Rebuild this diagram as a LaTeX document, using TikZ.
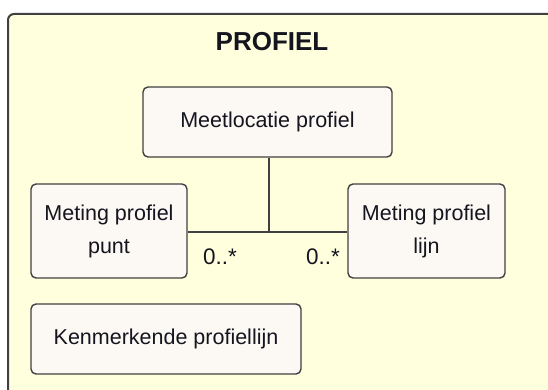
\documentclass[tikz,border=0pt]{standalone}
\usepackage{fontspec}
\setmainfont{Liberation Sans}
\definecolor{framefill}{HTML}{FFFFDD}
\definecolor{boxfill}{HTML}{FCF9F4}
\definecolor{edge}{HTML}{404040}
\definecolor{txt}{HTML}{151520}
\begin{document}
\begin{tikzpicture}[x=1pt,y=-1pt,
  umlbox/.style={draw=edge,fill=boxfill,line width=1.4pt,rounded corners=5pt,
    inner sep=0pt,align=center,text=txt,font=\fontsize{21.5}{33}\selectfont},
  conn/.style={draw=edge,line width=1.4pt},
  mult/.style={text=txt,inner sep=0pt,font=\fontsize{22.5}{24}\selectfont}]
\useasboundingbox (0,0) rectangle (548,390);
\fill[white] (0,0) rectangle (548,390);
\begin{scope}
\clip (0,0) rectangle (548,390);
\draw[edge,fill=framefill,line width=2pt,rounded corners=6pt] (8,14) rectangle (570,410);
\end{scope}
\node[font=\bfseries\fontsize{26}{30}\selectfont,text=txt,inner sep=0pt] (title) at (272,42) {PROFIEL};
\node[umlbox,minimum width=249pt,minimum height=70pt] (meet) at (267.5,122) {Meetlocatie profiel};
\node[umlbox,minimum width=156pt,minimum height=94pt] (punt) at (109,231) {Meting profiel\\punt};
\node[umlbox,minimum width=157pt,minimum height=94pt] (lijn) at (426.5,231) {Meting profiel\\lijn};
\node[umlbox,minimum width=270pt,minimum height=70pt] (kenm) at (166,339) {Kenmerkende profiellijn};
\coordinate (j) at (269,232);
\draw[conn] (meet.south -| j) -- (j);
\draw[conn] (punt.east |- j) -- (lijn.west |- j);
\node[mult] (m1) at (220,257) {0..*};
\node[mult] (m2) at (323,257) {0..*};
\end{tikzpicture}
\end{document}
